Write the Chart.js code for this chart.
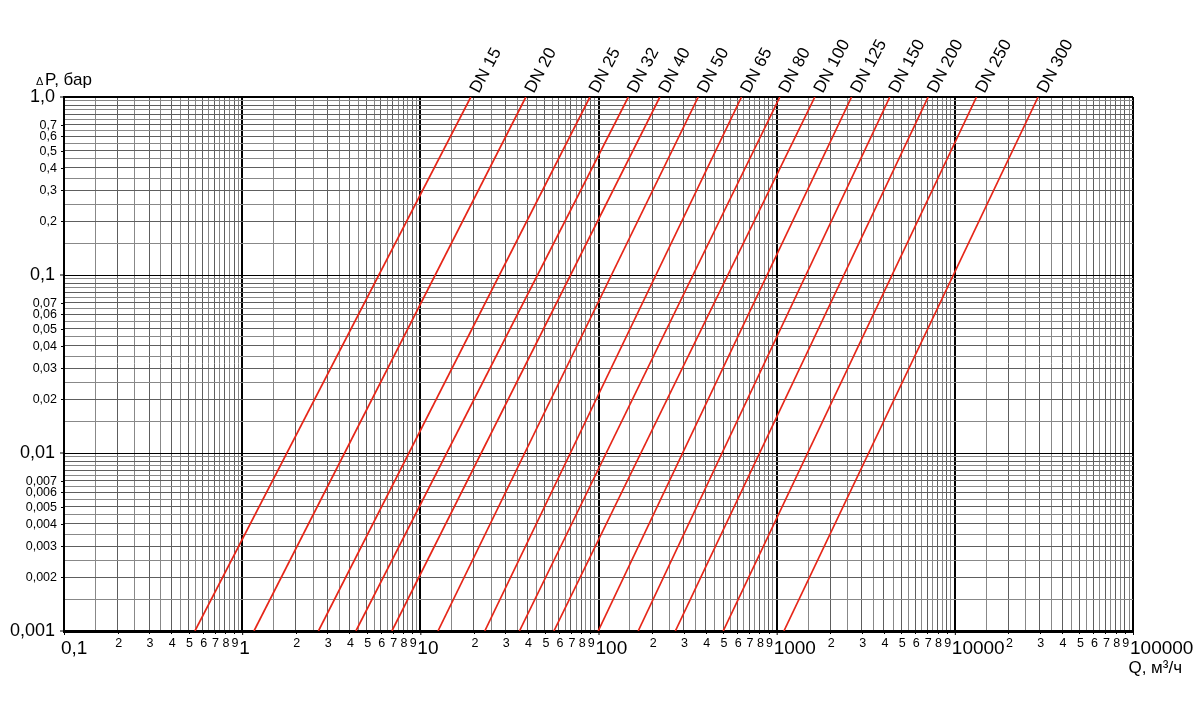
<!DOCTYPE html>
<html>
<head>
<meta charset="utf-8">
<script src="https://cdn.jsdelivr.net/npm/chart.js@4.4.1/dist/chart.umd.min.js"></script>
<style>
  html, body { margin: 0; padding: 0; background: #ffffff; }
  #wrap { width: 1200px; height: 727px; }
</style>
</head>
<body>
<div id="wrap"><canvas id="c" width="1200" height="727"></canvas></div>
<script>
// ---- Data ----
const dnLabels = ['DN 15','DN 20','DN 25','DN 32','DN 40','DN 50','DN 65','DN 80','DN 100','DN 125','DN 150','DN 200','DN 250','DN 300'];
// flow Q (m3/h) where each line meets dP = 0.001 bar (bottom edge)
const qAtLowDp = [0.543, 1.165, 2.68, 4.35, 6.93, 12.56, 23.0, 36.0, 56.2, 99.6, 167, 270, 501, 1098];
// flow Q (m3/h) where each line meets dP = 1.0 bar (top edge)
const qAtHighDp = [19.2, 39.1, 89.5, 147, 221, 363, 635, 1042, 1638, 2633, 4318, 7084, 13236, 29340];
const dpRange = [0.001, 1.0];

// ---- Axis / tick labels ----
const xDecades = [0.1, 1, 10, 100, 1000, 10000, 100000];
const xDecadeLabels = ['0,1', '1', '10', '100', '1000', '10000', '100000'];
const xMinorDigits = [2, 3, 4, 5, 6, 7, 8, 9];
const yDecades = [0.001, 0.01, 0.1, 1];
const yDecadeLabels = ['0,001', '0,01', '0,1', '1,0'];
const yMinorDigits = [2, 3, 4, 5, 6, 7];
const gridSteps = [1, 1.5, 2, 2.5, 3, 3.5, 4, 4.5, 5, 5.5, 6, 6.5, 7, 7.5, 8, 8.5, 9, 9.5];
const xTitle = 'Q, м³/ч';
const yTitleDelta = 'Δ';
const yTitleRest = 'P, бар';

const FONT = '"Liberation Sans", Arial, Helvetica, sans-serif';
const RED = 'rgb(230,38,24)';

function buildGrid(decades) {
  const out = [];
  for (let i = 0; i < decades.length; i++) {
    if (i === decades.length - 1) { out.push(decades[i]); break; }
    for (const s of gridSteps) out.push(+(decades[i] * s).toPrecision(6));
  }
  return out;
}
function isDecade(v) {
  const l = Math.log10(v);
  return Math.abs(l - Math.round(l)) < 1e-6;
}
function isInteger(v) {
  const l = Math.floor(Math.log10(v) + 1e-9);
  const m = v / Math.pow(10, l);
  return Math.abs(m - Math.round(m)) < 1e-6;
}
function gridColor(c) {
  if (!c.tick) return '#777';
  if (isDecade(c.tick.value)) return '#000';
  return isInteger(c.tick.value) ? '#5e5e5e' : '#888888';
}

const datasets = dnLabels.map((lab, i) => ({
  label: lab,
  data: [{ x: qAtLowDp[i], y: dpRange[0] }, { x: qAtHighDp[i], y: dpRange[1] }],
  showLine: true,
  borderColor: RED,
  backgroundColor: RED,
  borderWidth: 1.7,
  pointRadius: 0,
  fill: false
}));

const labelPlugin = {
  id: 'labels',
  afterDraw(chart) {
    const ctx = chart.ctx;
    const xs = chart.scales.x, ys = chart.scales.y;
    const area = chart.chartArea;
    ctx.save();
    ctx.fillStyle = '#000';
    ctx.strokeStyle = '#000';
    ctx.lineWidth = 1;

    // x axis labels
    ctx.textBaseline = 'alphabetic';
    for (let i = 0; i < xDecades.length; i++) {
      const px = xs.getPixelForValue(xDecades[i]);
      ctx.font = '19px ' + FONT;
      ctx.textAlign = 'left';
      ctx.fillText(xDecadeLabels[i], px - 3, 654);
      ctx.beginPath(); ctx.moveTo(px + 0.5, area.bottom); ctx.lineTo(px + 0.5, area.bottom + 4); ctx.stroke();
      if (i < xDecades.length - 1) {
        for (const d of xMinorDigits) {
          const mp = xs.getPixelForValue(xDecades[i] * d);
          ctx.font = '12.5px ' + FONT;
          ctx.textAlign = 'center';
          ctx.fillText(String(d), mp + 1, 647);
          ctx.beginPath(); ctx.moveTo(Math.round(mp) + 0.5, area.bottom); ctx.lineTo(Math.round(mp) + 0.5, area.bottom + 3); ctx.stroke();
        }
      }
    }

    // y axis labels
    ctx.textAlign = 'right';
    ctx.textBaseline = 'middle';
    for (let i = 0; i < yDecades.length; i++) {
      const py = ys.getPixelForValue(yDecades[i]);
      ctx.font = '18px ' + FONT;
      ctx.fillText(yDecadeLabels[i], 55, py);
      ctx.beginPath(); ctx.moveTo(area.left - 4, py); ctx.lineTo(area.left, py); ctx.stroke();
      if (i < yDecades.length - 1) {
        for (const d of yMinorDigits) {
          const v = yDecades[i] * d;
          const mp = ys.getPixelForValue(v);
          const txt = (+v.toPrecision(3)).toString().replace('.', ',');
          ctx.font = '12.5px ' + FONT;
          ctx.fillText(txt, 57, mp + 0.5);
          ctx.beginPath(); ctx.moveTo(area.left - 3, Math.round(mp) + 0.5); ctx.lineTo(area.left, Math.round(mp) + 0.5); ctx.stroke();
        }
      }
    }

    // axis titles
    ctx.textBaseline = 'alphabetic';
    ctx.textAlign = 'left';
    ctx.font = '11px ' + FONT;
    ctx.fillText(yTitleDelta, 36, 85);
    ctx.font = '17px ' + FONT;
    ctx.fillText(yTitleRest, 45, 85);
    ctx.textAlign = 'right';
    ctx.font = '17px ' + FONT;
    ctx.fillText(xTitle, 1182, 673);

    // DN labels at the top end of each line
    ctx.font = '17px ' + FONT;
    ctx.textAlign = 'left';
    ctx.textBaseline = 'alphabetic';
    for (let i = 0; i < dnLabels.length; i++) {
      const px = xs.getPixelForValue(qAtHighDp[i]);
      const py = ys.getPixelForValue(dpRange[1]);
      ctx.save();
      ctx.translate(px + 8, py - 3);
      ctx.rotate(-62 * Math.PI / 180);
      ctx.fillText(dnLabels[i], 0, 0);
      ctx.restore();
    }
    ctx.restore();
  }
};

const xGrid = buildGrid(xDecades);
const yGrid = buildGrid(yDecades);

new Chart(document.getElementById('c'), {
  type: 'scatter',
  data: { datasets },
  options: {
    responsive: false,
    devicePixelRatio: 1,
    animation: false,
    layout: { padding: { left: 64, right: 67, top: 97, bottom: 96 } },
    plugins: { legend: { display: false }, tooltip: { enabled: false } },
    scales: {
      x: {
        type: 'logarithmic',
        min: 0.1, max: 100000,
        afterBuildTicks: (s) => { s.ticks = xGrid.map(v => ({ value: v })); },
        ticks: { display: false },
        grid: {
          drawTicks: false,
          color: gridColor,
          lineWidth: (c) => (c.tick && isDecade(c.tick.value)) ? 2 : 1
        },
        border: { display: true, color: '#000', width: 3 }
      },
      y: {
        type: 'logarithmic',
        min: 0.001, max: 1,
        afterBuildTicks: (s) => { s.ticks = yGrid.map(v => ({ value: v })); },
        ticks: { display: false },
        grid: {
          drawTicks: false,
          color: gridColor,
          lineWidth: (c) => (c.tick && c.tick.value === 1) ? 2 : 1
        },
        border: { display: true, color: '#000', width: 2 }
      }
    }
  },
  plugins: [labelPlugin]
});
</script>
</body>
</html>
